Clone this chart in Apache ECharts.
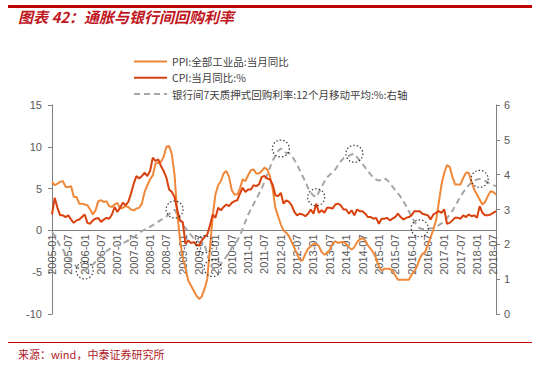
<!DOCTYPE html>
<html><head><meta charset="utf-8">
<script src="https://cdn.jsdelivr.net/npm/echarts@6/dist/echarts.min.js"></script>
<style>html,body{margin:0;padding:0;background:#fff}#c{width:546px;height:365px}</style>
</head><body><div id="c"></div>
<script>
// Months 2005-01 .. 2018-08
const categories = [];
for (let y = 2005; y <= 2018; y++) {
  for (let m = 1; m <= 12; m++) {
    if (y === 2018 && m > 8) break;
    categories.push(y + '-' + (m < 10 ? '0' + m : m));
  }
}
const ppi = [
  5.8,5.4,5.6,5.8,5.9,5.2,5.2,5.3,4.0,4.0,3.2,3.2,
  3.1,3.0,2.5,1.9,2.4,3.5,3.6,3.4,3.5,2.9,2.8,3.1,
  3.3,2.6,2.7,2.9,2.8,2.5,2.4,2.6,2.7,3.2,4.6,5.4,
  6.1,6.6,8.0,8.1,8.2,8.8,10.0,10.1,9.1,6.6,2.0,-1.1,
  -3.3,-4.5,-6.0,-6.6,-7.2,-7.8,-8.2,-7.9,-7.0,-5.8,-2.1,1.7,
  4.3,5.4,5.9,6.8,7.1,6.4,4.8,4.3,4.3,5.0,6.1,5.9,
  6.6,7.2,7.3,6.8,6.8,7.1,7.5,7.3,6.5,5.0,2.7,1.7,
  0.7,0.0,-0.3,-0.7,-1.4,-2.1,-2.9,-3.5,-3.6,-2.8,-2.2,-1.9,
  -1.6,-1.6,-1.9,-2.6,-2.9,-2.7,-2.3,-1.6,-1.3,-1.5,-1.4,-1.4,
  -1.6,-2.0,-2.3,-2.0,-1.4,-1.1,-0.9,-1.2,-1.8,-2.2,-2.7,-3.3,
  -4.3,-4.8,-4.6,-4.6,-4.6,-4.8,-5.4,-5.9,-5.9,-5.9,-5.9,-5.9,
  -5.3,-4.9,-4.3,-3.4,-2.8,-2.6,-1.7,-0.8,0.1,1.2,3.3,5.5,
  6.9,7.8,7.6,6.4,5.5,5.5,5.5,6.3,6.9,6.9,5.8,4.9,
  4.3,3.7,3.1,3.4,4.1,4.7,4.6,4.3
];
const cpi = [
  1.9,3.9,2.7,1.8,1.8,1.6,1.8,1.3,0.9,1.2,1.3,1.6,
  1.9,0.9,0.8,1.2,1.4,1.5,1.0,1.3,1.5,1.4,1.9,2.8,
  2.2,2.7,3.3,3.0,3.4,4.4,5.6,6.5,6.2,6.5,6.9,6.5,
  7.1,8.7,8.3,8.5,7.7,7.1,6.3,4.9,4.6,4.0,2.4,1.2,
  1.0,-1.6,-1.2,-1.5,-1.4,-1.7,-1.8,-1.2,-0.8,-0.5,0.6,1.9,
  1.5,2.7,2.4,2.8,3.1,2.9,3.3,3.5,3.6,4.4,5.1,4.6,
  4.9,4.9,5.4,5.3,5.5,6.4,6.5,6.2,6.1,5.5,4.2,4.1,
  4.5,3.2,3.6,3.4,3.0,2.2,1.8,2.0,1.9,1.7,2.0,2.5,
  2.0,3.2,2.1,2.4,2.1,2.7,2.7,2.6,3.1,3.2,3.0,2.5,
  2.5,2.0,2.4,1.8,2.5,2.3,2.3,2.0,1.6,1.6,1.4,1.5,
  0.8,1.4,1.4,1.5,1.2,1.4,1.6,2.0,1.6,1.3,1.5,1.6,
  1.8,2.3,2.3,2.3,2.0,1.9,1.8,1.3,1.9,2.1,2.3,2.1,
  2.5,0.8,0.9,1.2,1.5,1.5,1.4,1.8,1.6,1.9,1.7,1.8,
  1.5,2.9,2.1,1.8,1.8,1.9,2.1,2.3
];
const repo = [
  2.35,2.25,2.1,1.95,1.85,1.72,1.62,1.52,1.43,1.36,1.3,1.27,
  1.25,1.3,1.35,1.42,1.5,1.58,1.65,1.73,1.8,1.86,1.91,1.95,
  1.97,2.0,2.03,2.07,2.11,2.15,2.2,2.27,2.33,2.38,2.42,2.46,
  2.5,2.55,2.6,2.65,2.7,2.75,2.8,2.87,2.94,3.0,2.85,2.7,
  2.58,2.47,2.37,2.27,2.18,2.11,2.06,2.03,2.0,1.72,1.46,1.32,
  1.3,1.35,1.44,1.54,1.65,1.77,1.9,2.0,2.1,2.25,2.45,2.65,
  2.85,3.0,3.15,3.3,3.45,3.6,3.8,4.0,4.2,4.4,4.55,4.68,
  4.75,4.68,4.62,4.62,4.55,4.42,4.28,4.12,3.96,3.8,3.62,3.48,
  3.4,3.35,3.5,3.65,3.8,3.92,4.0,4.07,4.15,4.27,4.38,4.47,
  4.5,4.54,4.58,4.6,4.5,4.4,4.3,4.2,4.1,4.0,3.92,3.86,
  3.83,3.86,3.9,3.85,3.76,3.66,3.56,3.46,3.36,3.24,3.1,2.95,
  2.8,2.66,2.53,2.46,2.44,2.44,2.45,2.46,2.47,2.5,2.55,2.6,
  2.65,2.75,2.85,2.96,3.1,3.24,3.38,3.5,3.6,3.7,3.77,3.83,
  3.86,3.88,3.86,3.82,3.78,3.74,3.7,3.67
];
const circleMonths = ['2006-01','2008-10','2009-09','2009-12','2012-01','2013-02','2014-04','2016-04','2018-02'];
const leftTicks = { min: -10, max: 15, interval: 5 };
const rightTicks = { min: 0, max: 6, interval: 1 };
const names = ['PPI:全部工业品:当月同比', 'CPI:当月同比:%', '银行间7天质押式回购利率:12个月移动平均:%:右轴'];
const titleText = '图表 42：通胀与银行间回购利率';
const sourceText = '来源：wind，中泰证券研究所';

const gridTop = 105, gridBottom = 51, gridH = 365 - gridTop - gridBottom;
// distance from grid bottom to the zero line of the left axis
const zeroOffset = gridH * (0 - leftTicks.min) / (leftTicks.max - leftTicks.min);

const chart = echarts.init(document.getElementById('c'), null, { renderer: 'svg' });
const axisFont = { color: '#595959', fontSize: 11, fontFamily: 'Liberation Sans, Arial, sans-serif' };
const axLine = { lineStyle: { color: '#808080', width: 1 } };
chart.setOption({
  animation: false,
  backgroundColor: '#fff',
  graphic: [
    { type: 'rect', left: 8, top: 5, shape: { width: 524, height: 3 }, style: { fill: '#C00000' } },
    { type: 'text', left: 18, top: 9, style: { text: titleText, fill: '#C0161E', font: 'italic bold 15px "Noto Sans CJK SC"' } },
    { type: 'rect', left: 8, top: 342, shape: { width: 524, height: 1 }, style: { fill: '#C00000' } },
    { type: 'text', left: 18, top: 348, style: { text: sourceText, fill: '#B0171F', font: '11px "Noto Sans CJK SC"' } }
  ],
  legend: {
    data: names,
    orient: 'vertical',
    left: 128, top: 51,
    itemWidth: 33, itemHeight: 14, itemGap: 5,
    itemStyle: { opacity: 0 },
    textStyle: { color: '#404040', fontSize: 10.5, fontFamily: '"Noto Sans CJK SC"' }
  },
  grid: { left: 52, right: 50, top: gridTop, bottom: gridBottom },
  xAxis: {
    type: 'category', data: categories, boundaryGap: false, position: 'bottom',
    offset: -zeroOffset,
    axisLine: { onZero: false, lineStyle: { color: '#808080' } },
    axisTick: { show: false },
    axisLabel: Object.assign({ interval: 5, rotate: 90, margin: 4 }, axisFont),
    splitLine: { show: false }
  },
  yAxis: [
    Object.assign({ type: 'value', position: 'left', splitLine: { show: false },
      axisLine: Object.assign({ show: true }, axLine), axisTick: { show: true, length: 4, lineStyle: { color: '#808080' } },
      axisLabel: Object.assign({ margin: 10 }, axisFont) }, leftTicks),
    Object.assign({ type: 'value', position: 'right', splitLine: { show: false },
      axisLine: Object.assign({ show: true }, axLine), axisTick: { show: true, length: 4, lineStyle: { color: '#808080' } },
      axisLabel: Object.assign({ margin: 8 }, axisFont) }, rightTicks)
  ],
  series: [
    { name: names[0], type: 'line', data: ppi, symbol: 'none', yAxisIndex: 0,
      lineStyle: { color: '#F0883A', width: 2 }, itemStyle: { color: '#F0883A' }, z: 3 },
    { name: names[1], type: 'line', data: cpi, symbol: 'none', yAxisIndex: 0,
      lineStyle: { color: '#D9420F', width: 2 }, itemStyle: { color: '#D9420F' }, z: 4 },
    { name: names[2], type: 'line', data: repo, symbol: 'none', yAxisIndex: 1,
      lineStyle: { color: '#A6A6A6', width: 2, type: [6, 4] }, itemStyle: { color: '#A6A6A6' }, z: 2 },
    { name: 'circles', type: 'scatter', yAxisIndex: 1, symbol: 'circle', symbolSize: 17, z: 5,
      data: circleMonths.map(m => [m, repo[categories.indexOf(m)]]),
      itemStyle: { color: 'rgba(0,0,0,0)', borderColor: '#111', borderWidth: 1.2, borderType: [1.5, 2] },
      emphasis: { disabled: true } }
  ]
});
</script></body></html>
